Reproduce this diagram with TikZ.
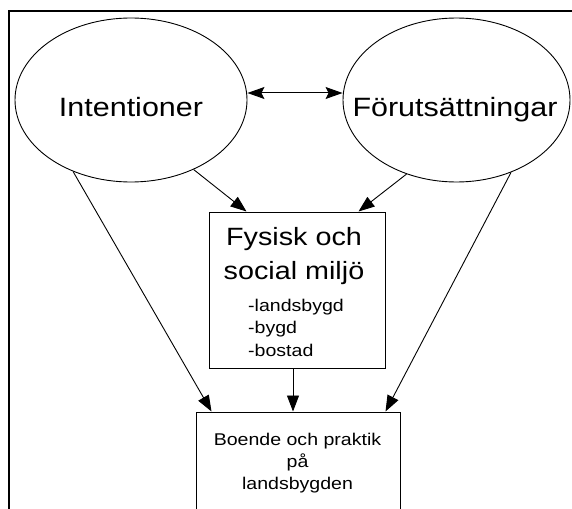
\documentclass[tikz,border=0pt]{standalone}
\usepackage{fontspec}
\setmainfont{Liberation Sans}[FakeStretch=1.15]
\usetikzlibrary{shapes.geometric,arrows.meta}
\tikzset{
  oval/.style={draw,ellipse,line width=0.9pt,inner sep=0pt},
  boxnode/.style={draw,rectangle,line width=1pt,inner sep=0pt},
  big/.style={font=\fontsize{26.5}{30}\selectfont,anchor=base,inner sep=0pt},
  mid/.style={font=\fontsize{25}{30}\selectfont,anchor=base,inner sep=0pt},
  small/.style={font=\fontsize{17}{20}\selectfont,anchor=base,inner sep=0pt},
  conn/.style={line width=0.9pt,-{Triangle[length=16pt,width=12pt]}},
  dconn/.style={line width=1pt,{Stealth[length=17pt,width=12pt,inset=3pt]}-{Stealth[length=17pt,width=12pt,inset=3pt]}}
}
\begin{document}
\begin{tikzpicture}[x=1pt,y=-1pt]
\useasboundingbox (0,0) rectangle (572,508);
\fill[white] (0,0) rectangle (572,508);
\draw[line width=1.8pt] (9,11) rectangle (600,540);
% ellipses
\node[oval,minimum width=232pt,minimum height=164pt] (L) at (131,100) {};
\node[oval,minimum width=227pt,minimum height=164pt] (R) at (456.5,100) {};
\node[big] (Lt) at (131,117) {Intentioner};
\node[big] (Rt) at (455,117) {Förutsättningar};
% middle box
\node[boxnode,minimum width=176pt,minimum height=156pt] (M) at (297,290) {};
\node[mid] (M1) at (294,245) {Fysisk och};
\node[mid] (M2) at (294,279) {social miljö};
\node[small,anchor=base west] (M3) at (248,311) {-landsbygd};
\node[small,anchor=base west] (M4) at (248,333) {-bygd};
\node[small,anchor=base west] (M5) at (248,356) {-bostad};
% bottom box
\node[boxnode,minimum width=204pt,minimum height=130pt] (B) at (298,477) {};
\node[small] (B1) at (297.5,445) {Boende och praktik};
\node[small] (B2) at (297.5,467) {på};
\node[small] (B3) at (297.5,489) {landsbygden};
% connectors
\draw[dconn] ([yshift=7pt]L.east) -- ([yshift=7pt]R.west);
\draw[conn] (L.231) -- ([xshift=16pt]B.north west);
\draw[conn] (L.312) -- ([xshift=38pt]M.north west);
\draw[conn] (R.236) -- ([xshift=-27pt]M.north east);
\draw[conn] (R.307) -- ([xshift=-15pt]B.north east);
\draw[conn] ([xshift=-4pt]M.south) -- ([xshift=-4pt]M.south |- B.north);
\end{tikzpicture}
\end{document}
